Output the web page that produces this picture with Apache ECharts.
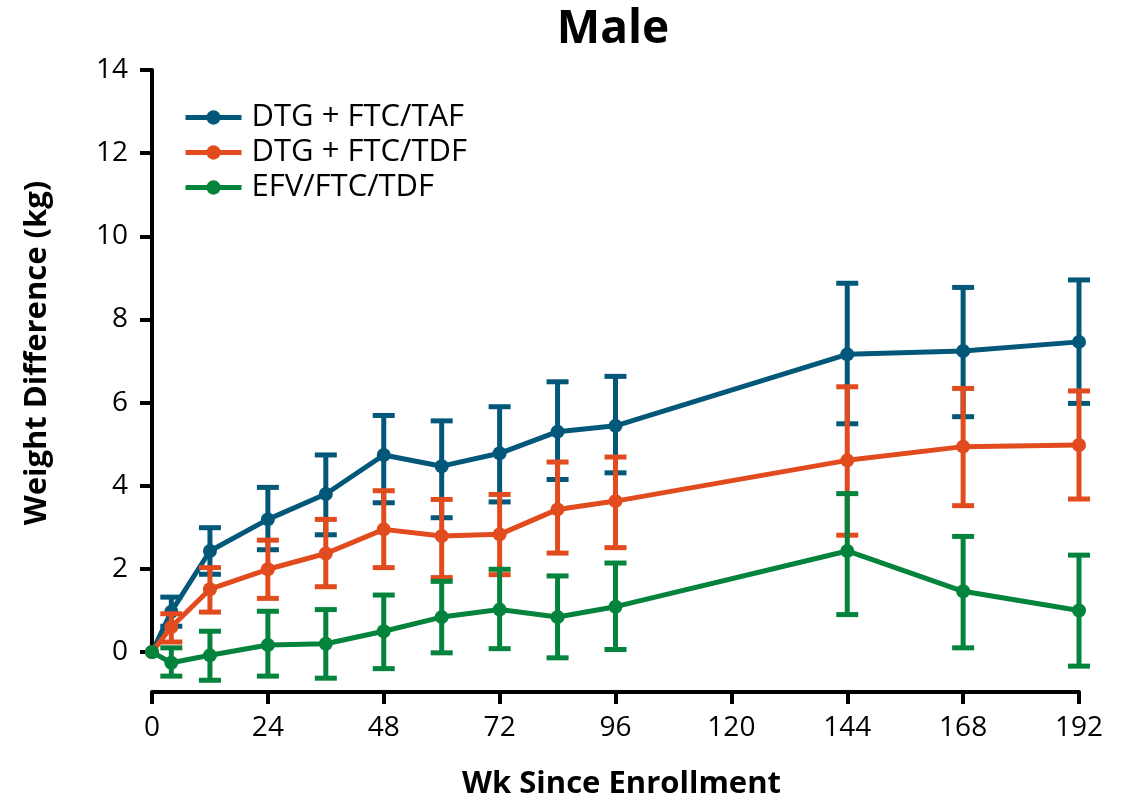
<!DOCTYPE html>
<html><head><meta charset="utf-8">
<script src="https://cdn.jsdelivr.net/npm/echarts@6/dist/echarts.min.js"></script>
<style>html,body{margin:0;padding:0;background:#fff}#c{width:1127px;height:805px}</style>
</head><body><div id="c"></div>
<script>
var weeks = [0, 4, 12, 24, 36, 48, 60, 72, 84, 96, 144, 168, 192];
var seriesNames = ['DTG + FTC/TAF', 'DTG + FTC/TDF', 'EFV/FTC/TDF'];
var colors = ['#03587A', '#E14B1E', '#04833C'];
var tafMean = [0, 0.97, 2.43, 3.19, 3.80, 4.74, 4.47, 4.78, 5.30, 5.44, 7.16, 7.24, 7.46];
var tafHigh = [null, 1.32, 2.99, 3.96, 4.74, 5.69, 5.56, 5.90, 6.50, 6.63, 8.87, 8.77, 8.95];
var tafLow  = [null, 0.62, 1.87, 2.46, 2.82, 3.59, 3.23, 3.61, 4.15, 4.31, 5.49, 5.66, 5.98];
var tdfMean = [0, 0.60, 1.51, 1.99, 2.37, 2.95, 2.79, 2.83, 3.43, 3.63, 4.61, 4.94, 4.98];
var tdfHigh = [null, 0.92, 2.03, 2.69, 3.19, 3.88, 3.67, 3.79, 4.57, 4.69, 6.38, 6.34, 6.28];
var tdfLow  = [null, 0.24, 0.96, 1.29, 1.57, 2.03, 1.79, 1.86, 2.38, 2.51, 2.81, 3.52, 3.68];
var efvMean = [0, -0.26, -0.08, 0.17, 0.20, 0.50, 0.84, 1.02, 0.84, 1.09, 2.43, 1.46, 1.00];
var efvHigh = [null, 0.10, 0.50, 0.98, 1.02, 1.37, 1.70, 1.99, 1.83, 2.14, 3.81, 2.78, 2.33];
var efvLow  = [null, -0.58, -0.68, -0.58, -0.63, -0.40, -0.02, 0.08, -0.14, 0.06, 0.90, 0.10, -0.34];
var yTicks = [0, 2, 4, 6, 8, 10, 12, 14];
var xTicks = [0, 24, 48, 72, 96, 120, 144, 168, 192];

var FONT = 'Open Sans';
var means = [tafMean, tdfMean, efvMean];
var highs = [tafHigh, tdfHigh, efvHigh];
var lows = [tafLow, tdfLow, efvLow];

function errRender(color) {
  return function (params, api) {
    var x = api.value(0), lo = api.value(1), hi = api.value(2);
    var pLo = api.coord([x, lo]), pHi = api.coord([x, hi]);
    var half = 11;
    var st = { stroke: color, lineWidth: 5 };
    return { type: 'group', children: [
      { type: 'line', shape: { x1: pLo[0], y1: pLo[1], x2: pHi[0], y2: pHi[1] }, style: st },
      { type: 'line', shape: { x1: pLo[0] - half, y1: pLo[1], x2: pLo[0] + half, y2: pLo[1] }, style: st },
      { type: 'line', shape: { x1: pHi[0] - half, y1: pHi[1], x2: pHi[0] + half, y2: pHi[1] }, style: st }
    ]};
  };
}

var series = [];
for (var s = 0; s < 3; s++) {
  var errData = [];
  for (var i = 0; i < weeks.length; i++) {
    if (highs[s][i] !== null) errData.push([weeks[i], lows[s][i], highs[s][i]]);
  }
  series.push({
    type: 'custom', name: seriesNames[s] + ' err', renderItem: errRender(colors[s]),
    data: errData, clip: false, z: 2 + s * 2, silent: true
  });
  series.push({
    type: 'line', name: seriesNames[s], clip: false, z: 3 + s * 2,
    data: weeks.map(function (w, i) { return [w, means[s][i]]; }),
    symbol: 'circle', symbolSize: 14,
    lineStyle: { color: colors[s], width: 5 },
    itemStyle: { color: colors[s] }
  });
}

var chart = echarts.init(document.getElementById('c'), null, { renderer: 'canvas' });
chart.setOption({
  animation: false,
  backgroundColor: '#ffffff',
  title: {
    text: 'Male', left: 608, textAlign: 'center', top: 2,
    textStyle: { fontFamily: FONT, fontWeight: 'bold', fontSize: 46, color: '#000' }
  },
  legend: {
    data: seriesNames, orient: 'vertical', left: 178, top: 97,
    itemWidth: 56, itemHeight: 18, itemGap: 4,
    lineStyle: { width: 5 },
    textStyle: { fontFamily: FONT, fontSize: 31, color: '#000', lineHeight: 31, padding: [0, 0, 0, 5] }
  },
  grid: { left: 152, right: 48, top: 70, bottom: 150, containLabel: false },
  xAxis: {
    type: 'value', min: 0, max: 192, interval: 24, offset: 40,
    name: 'Wk Since Enrollment', nameLocation: 'middle', nameGap: 77,
    nameTextStyle: { fontFamily: FONT, fontWeight: 'bold', fontSize: 31, color: '#000', padding: [0, 0, 0, 12] },
    axisLine: { show: true, onZero: false, lineStyle: { color: '#000', width: 4 } },
    axisTick: { show: true, length: 12, lineStyle: { color: '#000', width: 4 }, customValues: xTicks },
    axisLabel: { fontFamily: FONT, fontSize: 28, color: '#000', margin: 22, customValues: xTicks },
    splitLine: { show: false }
  },
  yAxis: {
    type: 'value', min: 0, max: 14, interval: 2,
    name: 'Weight Difference (kg)', nameLocation: 'middle', nameGap: 99,
    nameTextStyle: { fontFamily: FONT, fontWeight: 'bold', fontSize: 31, color: '#000', padding: [0, 0, 0, 16] },
    axisLine: { show: true, lineStyle: { color: '#000', width: 4 } },
    axisTick: { show: true, length: 12, lineStyle: { color: '#000', width: 4 }, customValues: yTicks },
    axisLabel: { fontFamily: FONT, fontSize: 28, color: '#000', margin: 24, customValues: yTicks },
    splitLine: { show: false }
  },
  series: series
});
</script></body></html>
